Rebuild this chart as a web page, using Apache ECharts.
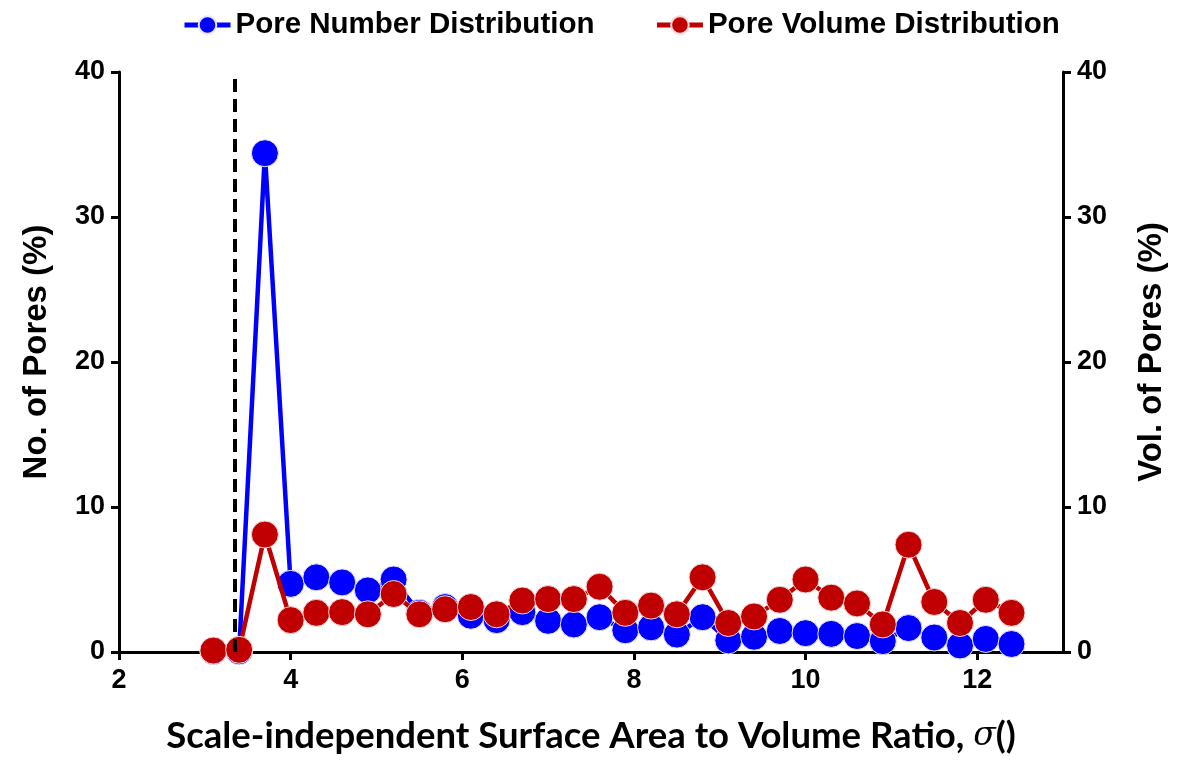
<!DOCTYPE html>
<html>
<head>
<meta charset="utf-8">
<script src="https://cdn.jsdelivr.net/npm/echarts@6/dist/echarts.min.js"></script>
<style>
html,body{margin:0;padding:0;background:#fff;}
#chart{width:1182px;height:760px;}
</style>
</head>
<body>
<div id="chart"></div>
<script>
// Data
const sigma = [3.1, 3.4, 3.7, 4.0, 4.3, 4.6, 4.9, 5.2, 5.5, 5.8, 6.1, 6.4, 6.7, 7.0, 7.3, 7.6, 7.9, 8.2, 8.5, 8.8, 9.1, 9.4, 9.7, 10.0, 10.3, 10.6, 10.9, 11.2, 11.5, 11.8, 12.1, 12.4];
const poreNumber = [0.05, 0.05, 34.4, 4.7, 5.15, 4.8, 4.25, 5.0, 2.7, 3.1, 2.5, 2.2, 2.75, 2.15, 1.9, 2.4, 1.5, 1.7, 1.2, 2.4, 0.8, 1.05, 1.45, 1.3, 1.25, 1.1, 0.75, 1.65, 1.0, 0.45, 0.9, 0.55];
const poreVolume = [0.1, 0.15, 8.1, 2.2, 2.7, 2.75, 2.6, 4.0, 2.6, 2.95, 3.1, 2.6, 3.55, 3.65, 3.65, 4.5, 2.7, 3.2, 2.6, 5.15, 2.0, 2.45, 3.6, 5.0, 3.75, 3.35, 1.9, 7.4, 3.45, 2.0, 3.6, 2.7];
const thresholdSigma = 3.35;
const yTicks = [0, 10, 20, 30, 40];
const xTicks = [2, 4, 6, 8, 10, 12];

const numPairs = sigma.map((x, i) => [x, poreNumber[i]]);
const volPairs = sigma.map((x, i) => [x, poreVolume[i]]);

const chart = echarts.init(document.getElementById('chart'));
const axisFont = {fontFamily: 'Liberation Sans, Arial', fontWeight: 'bold', fontSize: 27, color: '#000'};
const axisLineStyle = {show: true, lineStyle: {color: '#000', width: 3}};

chart.setOption({
  animation: false,
  backgroundColor: '#fff',
  legend: {
    left: 177, top: 5,
    itemWidth: 46, itemHeight: 22, itemGap: 60,
    lineStyle: {width: 5},
    textStyle: {fontFamily: 'Liberation Sans, Arial', fontWeight: 'bold', fontSize: 29.5, color: '#000'},
    data: ['Pore Number Distribution', 'Pore Volume Distribution']
  },
  grid: {left: 119, right: 119, top: 72, bottom: 105, containLabel: false},
  xAxis: {
    type: 'value', min: 2, max: 13, interval: 2,
    name: '{t|Scale-independent Surface Area to Volume Ratio, }{s|σ}{t|()}',
    nameLocation: 'middle', nameGap: 66,
    nameTextStyle: {rich: {
      t: {fontFamily: 'Lato, Open Sans', fontWeight: 'bold', fontSize: 36.5, color: '#000'},
      s: {fontFamily: 'DejaVu Serif', fontStyle: 'italic', fontSize: 33, color: '#000'}
    }},
    axisLine: axisLineStyle,
    axisTick: {show: true, inside: false, length: 8, lineStyle: {color: '#000', width: 3}},
    axisLabel: Object.assign({margin: 15, showMaxLabel: false, formatter: v => xTicks.includes(v) ? String(v) : ''}, axisFont),
    splitLine: {show: false}
  },
  yAxis: [
    {
      type: 'value', min: 0, max: 40, interval: 10, position: 'left',
      name: 'No. of Pores (%)', nameLocation: 'middle', nameGap: 66,
      nameTextStyle: {fontFamily: 'Liberation Sans, Arial', fontWeight: 'bold', fontSize: 33, color: '#000', padding: [0, 0, 0, 20]},
      axisLine: axisLineStyle,
      axisTick: {show: true, length: 8, lineStyle: {color: '#000', width: 3}},
      axisLabel: Object.assign({margin: 14, formatter: v => yTicks.includes(v) ? String(v) : ''}, axisFont),
      splitLine: {show: false}
    },
    {
      type: 'value', min: 0, max: 40, interval: 10, position: 'right',
      name: 'Vol. of Pores (%)', nameLocation: 'middle', nameGap: 72, nameRotate: 90,
      nameTextStyle: {fontFamily: 'Liberation Sans, Arial', fontWeight: 'bold', fontSize: 33, color: '#000', padding: [0, 0, 0, 20]},
      axisLine: axisLineStyle,
      axisTick: {show: true, length: 8, lineStyle: {color: '#000', width: 3}},
      axisLabel: Object.assign({margin: 14, formatter: v => yTicks.includes(v) ? String(v) : ''}, axisFont),
      splitLine: {show: false}
    }
  ],
  series: [
    {
      name: 'Pore Number Distribution', type: 'line', yAxisIndex: 0,
      data: numPairs, symbol: 'circle', symbolSize: 27,
      lineStyle: {color: '#0000ff', width: 4.5},
      itemStyle: {color: '#0000ff', borderColor: '#e6e6ff', borderWidth: 1},
      z: 2,
      markLine: {
        silent: true, symbol: 'none', label: {show: false},
        lineStyle: {color: '#000', width: 4, type: [13, 7]},
        data: [{xAxis: thresholdSigma}]
      }
    },
    {
      name: 'Pore Volume Distribution', type: 'line', yAxisIndex: 1,
      data: volPairs, symbol: 'circle', symbolSize: 27,
      lineStyle: {color: '#c00000', width: 4.5},
      itemStyle: {color: '#c00000', borderColor: '#f2dada', borderWidth: 1},
      z: 3
    }
  ]
});
</script>
</body>
</html>
